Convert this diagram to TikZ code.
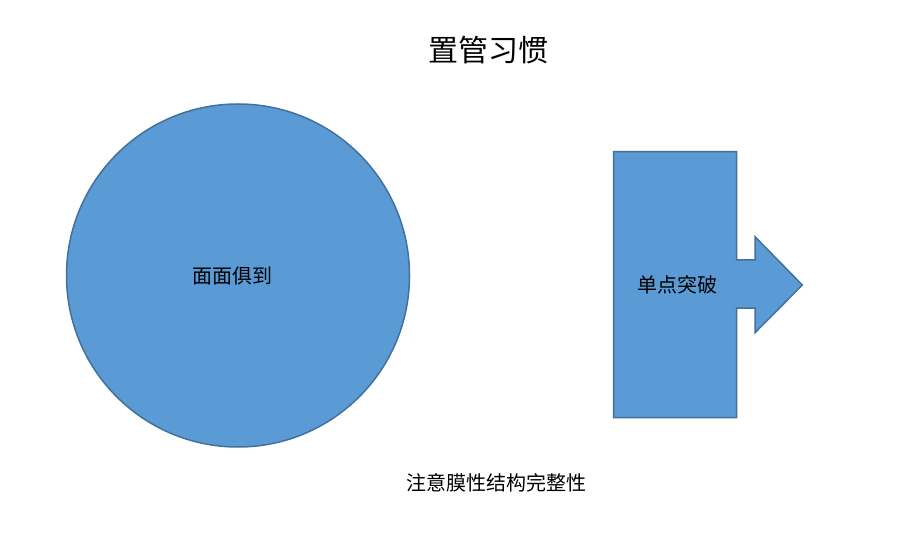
\documentclass[tikz,border=0pt]{standalone}
\usepackage{fontspec}
\newfontfamily\cjk{Noto Sans CJK SC}
\definecolor{shapefill}{HTML}{5B9BD5}
\definecolor{shapeline}{HTML}{41719C}
\begin{document}
\begin{tikzpicture}[x=1pt,y=-1pt,
  shapestyle/.style={fill=shapefill,draw=shapeline,line width=1.5pt,line join=miter},
  lbl/.style={font=\cjk\fontsize{20}{24}\selectfont,text=black,inner sep=0pt},
  titlelbl/.style={font=\cjk\fontsize{30}{36}\selectfont,text=black,inner sep=0pt}]
\useasboundingbox (0,0) rectangle (917,534);
\node[titlelbl] (title) at (488,50) {置管习惯};
\draw[shapestyle] (238,275.5) circle[radius=171.5];
\node[lbl] (circ) at (232,276) {面面俱到};
\draw[shapestyle] (613.5,151.7) -- (736.7,151.7) -- (736.7,260) -- (755,260) -- (755,236.7)
  -- (802.3,285) -- (755,332.7) -- (755,308) -- (736.7,308) -- (736.7,417.7) -- (613.5,417.7) -- cycle;
\node[lbl] (arr) at (677,285) {单点突破};
\node[lbl] (note) at (496,483) {注意膜性结构完整性};
\end{tikzpicture}
\end{document}
